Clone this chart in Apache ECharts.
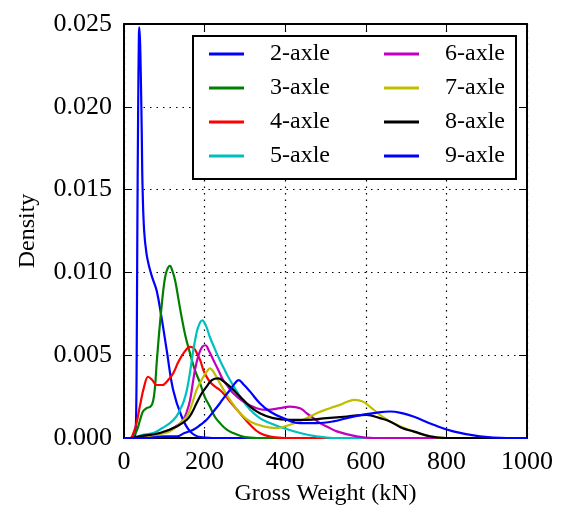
<!DOCTYPE html>
<html>
<head>
<meta charset="utf-8">
<script src="https://cdn.jsdelivr.net/npm/echarts@6/dist/echarts.min.js"></script>
<style>html,body{margin:0;padding:0;background:#fff;}#chart{width:564px;height:511px;}</style>
</head>
<body>
<div id="chart"></div>
<script>
// ---- data ----
const seriesNames = ['2-axle','3-axle','4-axle','5-axle','6-axle','7-axle','8-axle','9-axle'];
const xTicks = [0, 200, 400, 600, 800, 1000];
const yTicks = [0.000, 0.005, 0.010, 0.015, 0.020, 0.025];

const axle2 = [[0,0],[25,0],[28,0.0002],[30,0.0012],[31.5,0.005],[33,0.012],[35,0.0195],[37,0.0243],[38,0.0248],[40,0.0238],[42,0.0215],[44,0.0185],[46,0.0152],[50,0.0125],[56,0.0111],[63,0.0103],[70,0.0097],[81,0.0089],[93,0.0073],[106,0.0053],[122,0.0029],[143,0.0013],[164,0.0004],[189,0.00005],[220,0],[1000,0]];
const axle3 = [[0,0],[15,0],[22,0.0001],[31,0.0004],[40,0.0011],[47,0.0016],[56,0.0018],[66,0.0019],[72,0.0022],[77,0.0031],[81,0.0045],[87,0.0063],[93.5,0.0080],[100,0.0094],[106,0.0101],[114,0.0104],[120,0.0101],[127,0.0095],[135,0.0084],[143,0.0073],[153,0.0061],[164,0.0051],[176,0.0041],[189,0.0033],[200,0.0025],[213,0.0019],[225,0.0013],[238,0.0009],[255,0.0005],[271,0.0003],[300,0.00005],[330,0],[1000,0]];
const axle4 = [[0,0],[15,0],[20,0.0001],[30,0.0008],[40,0.0020],[50,0.0031],[60,0.0037],[70,0.0035],[81,0.0032],[95,0.0032],[106,0.0034],[122,0.0039],[135,0.0046],[150,0.0052],[164,0.0055],[174,0.0054],[183,0.0050],[189,0.0047],[197,0.0041],[205,0.0037],[213,0.0034],[226,0.0031],[238,0.0029],[250,0.0026],[263,0.0022],[288,0.0015],[313,0.0008],[337,0.0003],[370,0.00005],[400,0],[1000,0]];
const axle5 = [[0,0],[25,0],[35,0.0001],[50,0.0002],[73,0.0003],[95,0.0006],[114,0.0009],[130,0.0013],[139,0.0017],[148,0.0022],[156,0.0029],[164,0.0040],[172,0.0053],[178,0.0061],[184,0.0067],[194,0.0071],[203,0.0068],[213,0.0061],[225,0.0054],[238,0.0047],[250,0.0041],[263,0.0035],[288,0.0025],[313,0.0017],[337,0.0012],[362,0.0009],[395,0.0006],[437,0.0003],[478,0.0001],[520,0],[1000,0]];
const axle6 = [[0,0],[30,0],[50,0.0001],[80,0.0002],[114,0.0005],[135,0.0008],[147,0.0011],[156,0.0016],[164,0.0023],[170,0.0032],[176,0.0041],[185,0.0050],[194,0.0055],[202,0.0056],[210,0.0053],[222,0.0047],[234,0.0041],[246,0.0035],[258,0.0031],[271,0.0027],[296,0.0022],[329,0.0018],[354,0.0017],[387,0.0018],[412,0.0019],[437,0.0018],[453,0.0015],[470,0.0012],[486,0.0009],[503,0.0007],[528,0.0004],[577,0.0001],[620,0],[1000,0]];
const axle7 = [[0,0],[40,0],[70,0.0001],[100,0.0003],[114,0.0004],[135,0.0008],[156,0.0013],[168,0.0020],[180,0.0029],[190,0.0034],[197,0.0037],[205,0.0040],[213,0.0042],[222,0.0040],[238,0.0033],[250,0.0028],[263,0.0023],[288,0.0015],[313,0.0010],[346,0.0007],[379,0.0006],[412,0.0008],[445,0.0011],[478,0.0015],[511,0.0018],[536,0.0020],[555,0.0022],[573,0.0023],[592,0.0022],[610,0.0019],[635,0.0014],[660,0.0010],[677,0.0008],[718,0.0004],[759,0.0001],[800,0],[1000,0]];
const axle8 = [[0,0],[20,0],[40,0.0001],[89,0.0003],[131,0.0007],[156,0.0011],[168,0.0015],[180,0.0021],[193,0.0027],[205,0.0031],[218,0.0035],[234,0.0036],[248,0.0034],[263,0.0031],[288,0.0025],[313,0.0019],[337,0.0015],[370,0.0012],[412,0.0011],[453,0.0011],[503,0.0012],[553,0.0013],[602,0.0014],[635,0.0012],[660,0.0010],[690,0.0006],[718,0.0004],[759,0.0001],[800,0],[1000,0]];
const axle9 = [[0,0],[60,0],[100,0.0001],[131,0.0001],[150,0.0003],[172,0.0005],[190,0.0008],[205,0.0011],[222,0.0016],[238,0.0021],[250,0.0025],[263,0.0029],[275,0.0033],[284,0.0035],[298,0.0032],[313,0.0028],[337,0.0021],[362,0.0016],[395,0.0012],[437,0.0009],[478,0.0009],[519,0.0010],[553,0.0012],[590,0.0014],[619,0.0015],[660,0.0016],[690,0.0015],[718,0.0013],[768,0.0008],[817,0.0004],[883,0.0001],[950,0],[1000,0]];

const seriesData = [axle2, axle3, axle4, axle5, axle6, axle7, axle8, axle9];
const colors = ['#0000ff','#008000','#ff0000','#00bfbf','#bf00bf','#bfbf00','#000000','#0000ff'];

// ---- chart ----
const FONT = '"Liberation Serif", "Times New Roman", serif';
const chart = echarts.init(document.getElementById('chart'), null, {renderer: 'canvas'});

const tickCommon = {show: true, inside: true, length: 8, lineStyle: {color: '#000', width: 1}};
const lineCommon = {show: true, onZero: false, lineStyle: {color: '#000', width: 2}};
const splitCommon = {show: true, lineStyle: {color: '#000', width: 1.2, type: [1.5, 5]}};

const legendCommon = {
  orient: 'vertical', top: 42, padding: 0,
  icon: 'rect', itemWidth: 35, itemHeight: 3, itemGap: 10,
  textStyle: {fontFamily: FONT, fontSize: 24, color: '#000', padding: [0, 0, 0, 21]},
  z: 10
};

const option = {
  backgroundColor: '#fff',
  animation: false,
  grid: {left: 124, right: 37, top: 24, bottom: 73, containLabel: false, outerBoundsMode: 'none'},
  xAxis: [
    {type: 'value', min: xTicks[0], max: xTicks[xTicks.length-1], interval: 200, position: 'bottom',
     name: 'Gross Weight (kN)', nameLocation: 'middle', nameGap: 44,
     nameTextStyle: {fontFamily: FONT, fontSize: 24, color: '#000'},
     axisLine: lineCommon, axisTick: tickCommon, splitLine: splitCommon,
     axisLabel: {fontFamily: FONT, fontSize: 26, color: '#000', margin: 11,
                 formatter: v => xTicks.includes(v) ? String(v) : ''}},
    {type: 'value', min: xTicks[0], max: xTicks[xTicks.length-1], interval: 200, position: 'top',
     axisLine: lineCommon, axisTick: tickCommon, splitLine: {show: false}, axisLabel: {show: false}}
  ],
  yAxis: [
    {type: 'value', min: yTicks[0], max: yTicks[yTicks.length-1], interval: 0.005, position: 'left',
     name: 'Density', nameLocation: 'middle', nameGap: 84,
     nameTextStyle: {fontFamily: FONT, fontSize: 24, color: '#000'},
     axisLine: lineCommon, axisTick: tickCommon, splitLine: splitCommon,
     axisLabel: {fontFamily: FONT, fontSize: 26, color: '#000', margin: 12,
                 formatter: v => v.toFixed(3)}},
    {type: 'value', min: yTicks[0], max: yTicks[yTicks.length-1], interval: 0.005, position: 'right',
     axisLine: lineCommon, axisTick: tickCommon, splitLine: {show: false}, axisLabel: {show: false}}
  ],
  legend: [
    Object.assign({data: seriesNames.slice(0, 4), left: 209}, legendCommon),
    Object.assign({data: seriesNames.slice(4), left: 384}, legendCommon)
  ],
  graphic: [
    {type: 'rect', left: 192, top: 35, z: 5,
     shape: {width: 323, height: 143},
     style: {fill: '#fff', stroke: '#000', lineWidth: 2}}
  ],
  series: seriesNames.map((n, i) => ({
    name: n, type: 'line', data: seriesData[i], xAxisIndex: 0, yAxisIndex: 0,
    showSymbol: false, symbol: 'none', smooth: 0.4,
    lineStyle: {color: colors[i], width: 2.2}, itemStyle: {color: colors[i]},
    clip: true, z: 2
  }))
};
chart.setOption(option);
</script>
</body>
</html>
